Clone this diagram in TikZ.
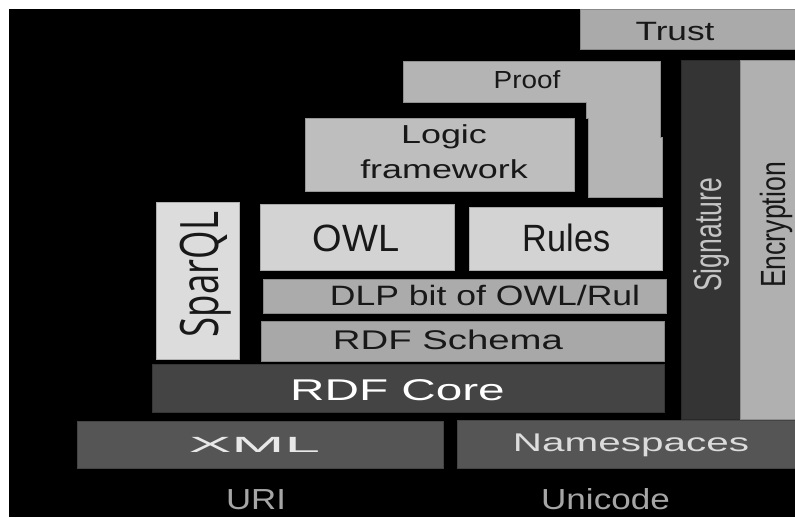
\documentclass[tikz,border=0pt]{standalone}
\usepackage{fontspec,graphicx}
\setmainfont{Liberation Sans}
\newfontfamily\queryfont{Open Sans}
\definecolor{trustgray}{RGB}{170,170,170}
\definecolor{proofgray}{RGB}{180,180,180}
\definecolor{logicgray}{RGB}{190,190,190}
\definecolor{ontofill}{RGB}{211,211,211}
\definecolor{queryfill}{RGB}{220,220,220}
\definecolor{dlpgray}{RGB}{171,171,171}
\definecolor{schemagray}{RGB}{168,168,168}
\definecolor{coregray}{RGB}{68,68,68}
\definecolor{basegray}{RGB}{85,85,85}
\definecolor{signgray}{RGB}{52,52,52}
\definecolor{cryptgray}{RGB}{176,176,176}
\definecolor{inkdark}{RGB}{24,24,24}
\definecolor{inklight}{RGB}{232,232,232}
\definecolor{inkdim}{RGB}{166,166,166}
\usetikzlibrary{positioning}

% widen or narrow a label without changing its height
\newcommand{\stretchtxt}[2]{\scalebox{#1}[1]{#2}}

\begin{document}
\begin{tikzpicture}[
  x=1pt, y=-1pt,
  layer/.style={rectangle, anchor=north west, inner sep=0pt, outer sep=0pt,
                line width=0.6pt, draw=#1!80!black, fill=#1},
  tag/.style={inner sep=0pt, anchor=base, text=inkdark}
]
% ground
\fill[white] (0,0) rectangle (795,517);
\fill[black] (9,9) rectangle (795,517);
\useasboundingbox (0,0) rectangle (795,517);

% Top of the stack
\node[layer=trustgray, minimum width=215, minimum height=40] (trust) at (580,9) {};
\node[tag, font=\fontsize{26.5}{30}\selectfont] (trusttxt) at (675,40) {\stretchtxt{1.33}{Trust}};

\filldraw[fill=proofgray, draw=proofgray!80!black, line width=0.6pt]
  (403,61) -- (660,61) -- (660,137) -- (662,137) -- (662,197) -- (588,197)
  -- (588,118) -- (586.5,118) -- (586.5,102) -- (403,102) -- cycle;
\node[tag, font=\fontsize{24.7}{28}\selectfont] (prooftxt) at (527,88.3) {\stretchtxt{1.13}{Proof}};

\node[layer=logicgray, minimum width=268.3, minimum height=73.4] (logic) at (305.7,118.3) {};
\node[tag, anchor=center, align=center, font=\fontsize{26}{35}\selectfont] (logictxt) at (444,151.5)
  {\stretchtxt{1.38}{Logic}\\\stretchtxt{1.38}{framework}};

% Query, ontology and rules
\node[layer=queryfill, minimum width=82.5, minimum height=156.7] (sparql) at (156.7,202.7) {};
\node[tag, rotate=90, font=\queryfont\fontsize{53}{60}\selectfont] (sparqltxt) at (218,274.5) {\stretchtxt{0.69}{SparQL}};

\node[layer=ontofill, minimum width=194, minimum height=66] (owl) at (260,204) {};
\node[tag, font=\fontsize{38}{44}\selectfont] (owltxt) at (356,251.5) {\stretchtxt{1.0}{OWL}};
\node[layer=ontofill, minimum width=193, minimum height=63] (rules) at (469,207) {};
\node[tag, font=\fontsize{38}{44}\selectfont] (rulestxt) at (566.5,251.7) {\stretchtxt{0.9}{Rules}};

\node[layer=dlpgray, minimum width=403, minimum height=34.5] (dlp) at (263,279) {};
\node[tag, font=\fontsize{28}{32}\selectfont] (dlptxt) at (485,305) {\stretchtxt{1.27}{DLP bit of OWL/Rul}};

\node[layer=schemagray, minimum width=403, minimum height=40] (schema) at (261.7,321) {};
\node[tag, font=\fontsize{27}{31}\selectfont] (schematxt) at (448,349.3) {\stretchtxt{1.42}{RDF Schema}};

\node[layer=coregray, minimum width=512, minimum height=47.5] (core) at (152.5,364.3) {};
\node[tag, text=white, font=\fontsize{30}{34}\selectfont] (coretxt) at (397.5,400) {\stretchtxt{1.59}{RDF Core}};

% Syntax layer
\node[layer=basegray, minimum width=366.5, minimum height=47] (xml) at (77,421) {};
\node[tag, text=inklight, font=\fontsize{22}{26}\selectfont] (xmltxt) at (254.5,452) {\stretchtxt{2.9}{XML}};
\node[layer=basegray, minimum width=337.5, minimum height=48] (ns) at (457.5,420) {};
\node[tag, text=inklight!95!black, font=\fontsize{25.6}{30}\selectfont] (nstxt) at (631,451.7) {\stretchtxt{1.58}{Namespaces}};

% Side columns
\node[layer=signgray, minimum width=59.5, minimum height=359] (sign) at (681,60) {};
\node[tag, rotate=90, text=inklight!85!black, font=\fontsize{38.5}{44}\selectfont] (signtxt) at (721,235) {\stretchtxt{0.69}{Signature}};
\node[layer=cryptgray, minimum width=54.5, minimum height=359] (crypt) at (740.5,60) {};
\node[tag, rotate=90, font=\fontsize{35}{40}\selectfont] (crypttxt) at (785,225) {\stretchtxt{0.76}{Encryption}};

% Foundation
\node[tag, text=inkdim, font=\fontsize{29}{33}\selectfont] (uri) at (256,509) {\stretchtxt{1.2}{URI}};
\node[tag, text=inkdim, font=\fontsize{29}{33}\selectfont] (unicode) at (605.5,509) {\stretchtxt{1.21}{Unicode}};
\end{tikzpicture}
\end{document}
